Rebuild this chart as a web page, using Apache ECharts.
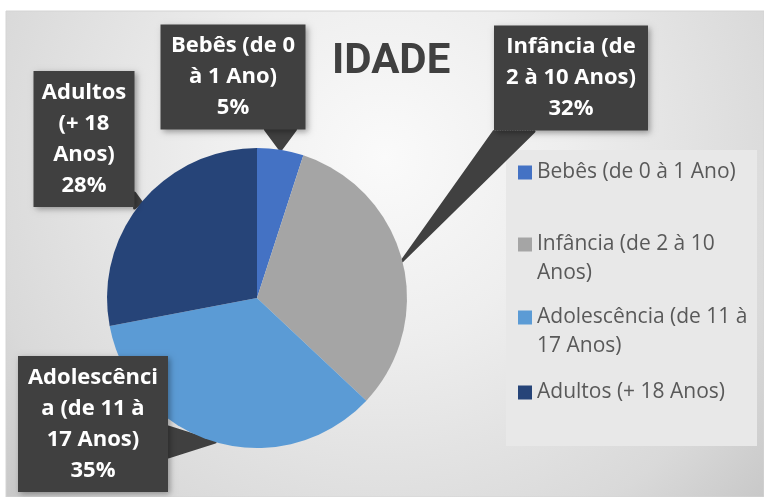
<!DOCTYPE html>
<html>
<head>
<meta charset="utf-8">
<script src="https://cdn.jsdelivr.net/npm/echarts@6/dist/echarts.min.js"></script>
<style>
html, body { margin: 0; padding: 0; background: #fff; }
#chart { width: 764px; height: 497px; }
</style>
</head>
<body>
<div id="chart"></div>
<script>
// dados
var categories = ['Bebês (de 0 à 1 Ano)', 'Infância (de 2 à 10 Anos)', 'Adolescência (de 11 à 17 Anos)', 'Adultos (+ 18 Anos)'];
var values = [5, 32, 35, 28];
var colors = ['#4472C4', '#A5A5A5', '#5B9BD5', '#264478'];
// textos das caixas (com as quebras do original)
var boxTexts = ['Bebês (de 0\nà 1 Ano)', 'Infância (de\n2 à 10 Anos)', 'Adolescênci\na (de 11 à\n17 Anos)', 'Adultos\n(+ 18\nAnos)'];
var legendTexts = ['Bebês (de 0 à 1 Ano)', 'Infância (de 2 à 10\nAnos)', 'Adolescência (de 11 à\n17 Anos)', 'Adultos (+ 18 Anos)'];

// posição das caixas de rótulo (centro, largura, altura) e largura da base da seta
var boxes = [
    { cx: 233, cy: 77, w: 145, h: 105, base: 30 },
    { cx: 571, cy: 78, w: 154, h: 107, base: 40 },
    { cx: 93, cy: 424, w: 150, h: 138, base: 30 },
    { cx: 84, cy: 139, w: 101, h: 138, base: 15 }
];
var legendTops = [158, 230, 303, 378];

var FONT = "'Open Sans', 'Noto Sans', sans-serif";

function clamp(v, a, b) { return Math.max(a, Math.min(b, v)); }

// seta (cunha) desenhada como leque de linhas a partir da ponta na fatia
function wedge(p0, b) {
    var left = b.cx - b.w / 2, right = b.cx + b.w / 2;
    var top = b.cy - b.h / 2, bottom = b.cy + b.h / 2;
    var dx = p0[0] < left ? left - p0[0] : (p0[0] > right ? p0[0] - right : 0);
    var dy = p0[1] < top ? top - p0[1] : (p0[1] > bottom ? p0[1] - bottom : 0);
    var pts = [];
    var s, e, k;
    if (dy >= dx) {
        var ey = p0[1] > bottom ? bottom : top;
        s = clamp(clamp(p0[0], left, right) - b.base / 2, left, right - b.base);
        e = s + b.base;
        for (k = s; k <= e; k += 2.5) { pts.push([p0[0], p0[1]]); pts.push([k, ey]); }
    } else {
        var ex = p0[0] > right ? right : left;
        s = clamp(clamp(p0[1], top, bottom) - b.base / 2, top, bottom - b.base);
        e = s + b.base;
        for (k = s; k <= e; k += 2.5) { pts.push([p0[0], p0[1]]); pts.push([ex, k]); }
    }
    return pts;
}

function legendFor(i) {
    var twoLines = legendTexts[i].indexOf('\n') >= 0;
    return {
        data: [{ name: categories[i], icon: twoLines ? 'path://M0,0H14V14H0Z M0,43L0,43Z' : 'rect' }],
        orient: 'vertical',
        left: 518,
        top: legendTops[i],
        padding: 0,
        itemWidth: 14,
        itemHeight: twoLines ? 43 : 14,
        itemStyle: { borderWidth: 0 },
        selectedMode: false,
        formatter: function () { return legendTexts[i]; },
        textStyle: { fontFamily: FONT, fontSize: 21, lineHeight: 29, color: '#595959' }
    };
}

var chart = echarts.init(document.getElementById('chart'));

var option = {
    animation: false,
    backgroundColor: '#fff',
    title: {
        text: 'IDADE',
        left: 332,
        top: 41,
        padding: 0,
        textStyle: { fontFamily: "Roboto, 'Open Sans', sans-serif", fontWeight: 'bold', fontSize: 42, color: '#404040' }
    },
    graphic: [
        {
            type: 'rect', z: -10,
            shape: { x: 6, y: 11, width: 758, height: 486 },
            style: {
                fill: { type: 'radial', x: 0.5, y: 0.3, r: 1.05, colorStops: [
                    { offset: 0, color: '#fafafa' },
                    { offset: 0.35, color: '#eeeeee' },
                    { offset: 0.8, color: '#d9d9d9' },
                    { offset: 1, color: '#c8c8c8' }
                ] },
                stroke: '#d4d4d4', lineWidth: 1
            }
        },
        {
            type: 'rect', z: -5,
            shape: { x: 506, y: 150, width: 251, height: 296 },
            style: { fill: '#e8e8e8' }
        }
    ],
    legend: [legendFor(0), legendFor(1), legendFor(2), legendFor(3)],
    series: [{
        type: 'pie',
        center: [257, 298],
        radius: 150,
        startAngle: 90,
        clockwise: true,
        silent: true,
        itemStyle: { borderWidth: 0 },
        emphasis: { disabled: true },
        data: categories.map(function (name, i) {
            return { name: name, value: values[i], itemStyle: { color: colors[i] }, label: { width: boxes[i].w } };
        }),
        label: {
            show: true,
            position: 'outside',
            formatter: function (p) { return boxTexts[p.dataIndex] + '\n' + p.percent + '%'; },
            color: '#fff',
            fontFamily: FONT,
            fontWeight: 'bold',
            fontSize: 22,
            lineHeight: 31,
            align: 'center',
            backgroundColor: '#404040',
            padding: [6, 0],
            shadowBlur: 6,
            shadowColor: 'rgba(0,0,0,0.35)',
            shadowOffsetX: 2,
            shadowOffsetY: 2
        },
        labelLine: {
            show: true,
            lineStyle: { color: '#404040', width: 3, join: 'round', cap: 'round' }
        },
        labelLayout: function (params) {
            var b = boxes[params.dataIndex];
            var out = { x: b.cx, y: b.cy, align: 'center', verticalAlign: 'middle' };
            if (params.labelLinePoints) {
                out.labelLinePoints = wedge(params.labelLinePoints[0], b);
            }
            return out;
        }
    }]
};

chart.setOption(option);
</script>
</body>
</html>
